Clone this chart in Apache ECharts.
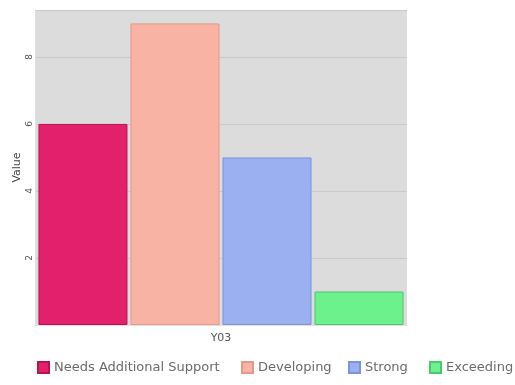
<!DOCTYPE html>
<html>
<head>
<meta charset="utf-8">
<script src="https://cdn.jsdelivr.net/npm/echarts@6/dist/echarts.min.js"></script>
<style>
  html, body { margin: 0; padding: 0; background: #ffffff; }
  #chart { width: 515px; height: 385px; }
</style>
</head>
<body>
<div id="chart"></div>
<script>
// Categories, series and values
const categories = ['Y03'];
const seriesNames = ['Needs Additional Support', 'Developing', 'Strong', 'Exceeding'];
const seriesValues = [[6], [9], [5], [1]];
const seriesColors = ['#e2206b', '#f8b3a5', '#9ab0f0', '#6cf18d'];
const borderColors = ['#b8124f', '#e3998b', '#7b93d8', '#4cc96c'];
// left edge of each legend entry
const legendLefts = [37, 241, 348, 429];

const chart = echarts.init(document.getElementById('chart'), null, { renderer: 'canvas' });

const series = seriesNames.map((name, i) => ({
  name: name,
  type: 'bar',
  data: seriesValues[i],
  barWidth: 89,
  barGap: '3.4%',
  itemStyle: { color: seriesColors[i], borderColor: borderColors[i], borderWidth: 1 },
  emphasis: { disabled: true }
}));

const legends = seriesNames.map((name, i) => ({
  data: [name],
  left: legendLefts[i], top: 361,
  padding: 0,
  itemWidth: 11, itemHeight: 11,
  icon: 'rect',
  selectedMode: false,
  textStyle: { fontSize: 13, color: '#6a6a6a', fontFamily: 'DejaVu Sans' }
}));

chart.setOption({
  animation: false,
  textStyle: { fontFamily: 'DejaVu Sans' },
  grid: {
    left: 35, right: 108, top: 10, bottom: 60,
    containLabel: false,
    outerBoundsMode: 'none',
    show: true, backgroundColor: '#dcdcdc', borderWidth: 0
  },
  legend: legends,
  xAxis: {
    type: 'category',
    data: categories,
    axisLine: { show: true, lineStyle: { color: '#ecdcdc' } },
    axisTick: { show: false },
    axisLabel: { color: '#555555', fontSize: 11, margin: 8 }
  },
  yAxis: {
    type: 'value',
    min: 0, max: 9.4, interval: 2,
    name: 'Value',
    nameLocation: 'middle',
    nameGap: 12,
    nameMoveOverlap: false,
    nameTextStyle: { color: '#444444', fontSize: 11 },
    axisLine: { show: true, lineStyle: { color: '#d6e4e2' } },
    axisTick: { show: false },
    axisLabel: {
      rotate: 90, color: '#555555', fontSize: 9, margin: 1,
      showMinLabel: false, showMaxLabel: false
    },
    splitLine: { show: true, lineStyle: { color: '#c9c9c9', width: 1 } }
  },
  series: series
});
</script>
</body>
</html>
